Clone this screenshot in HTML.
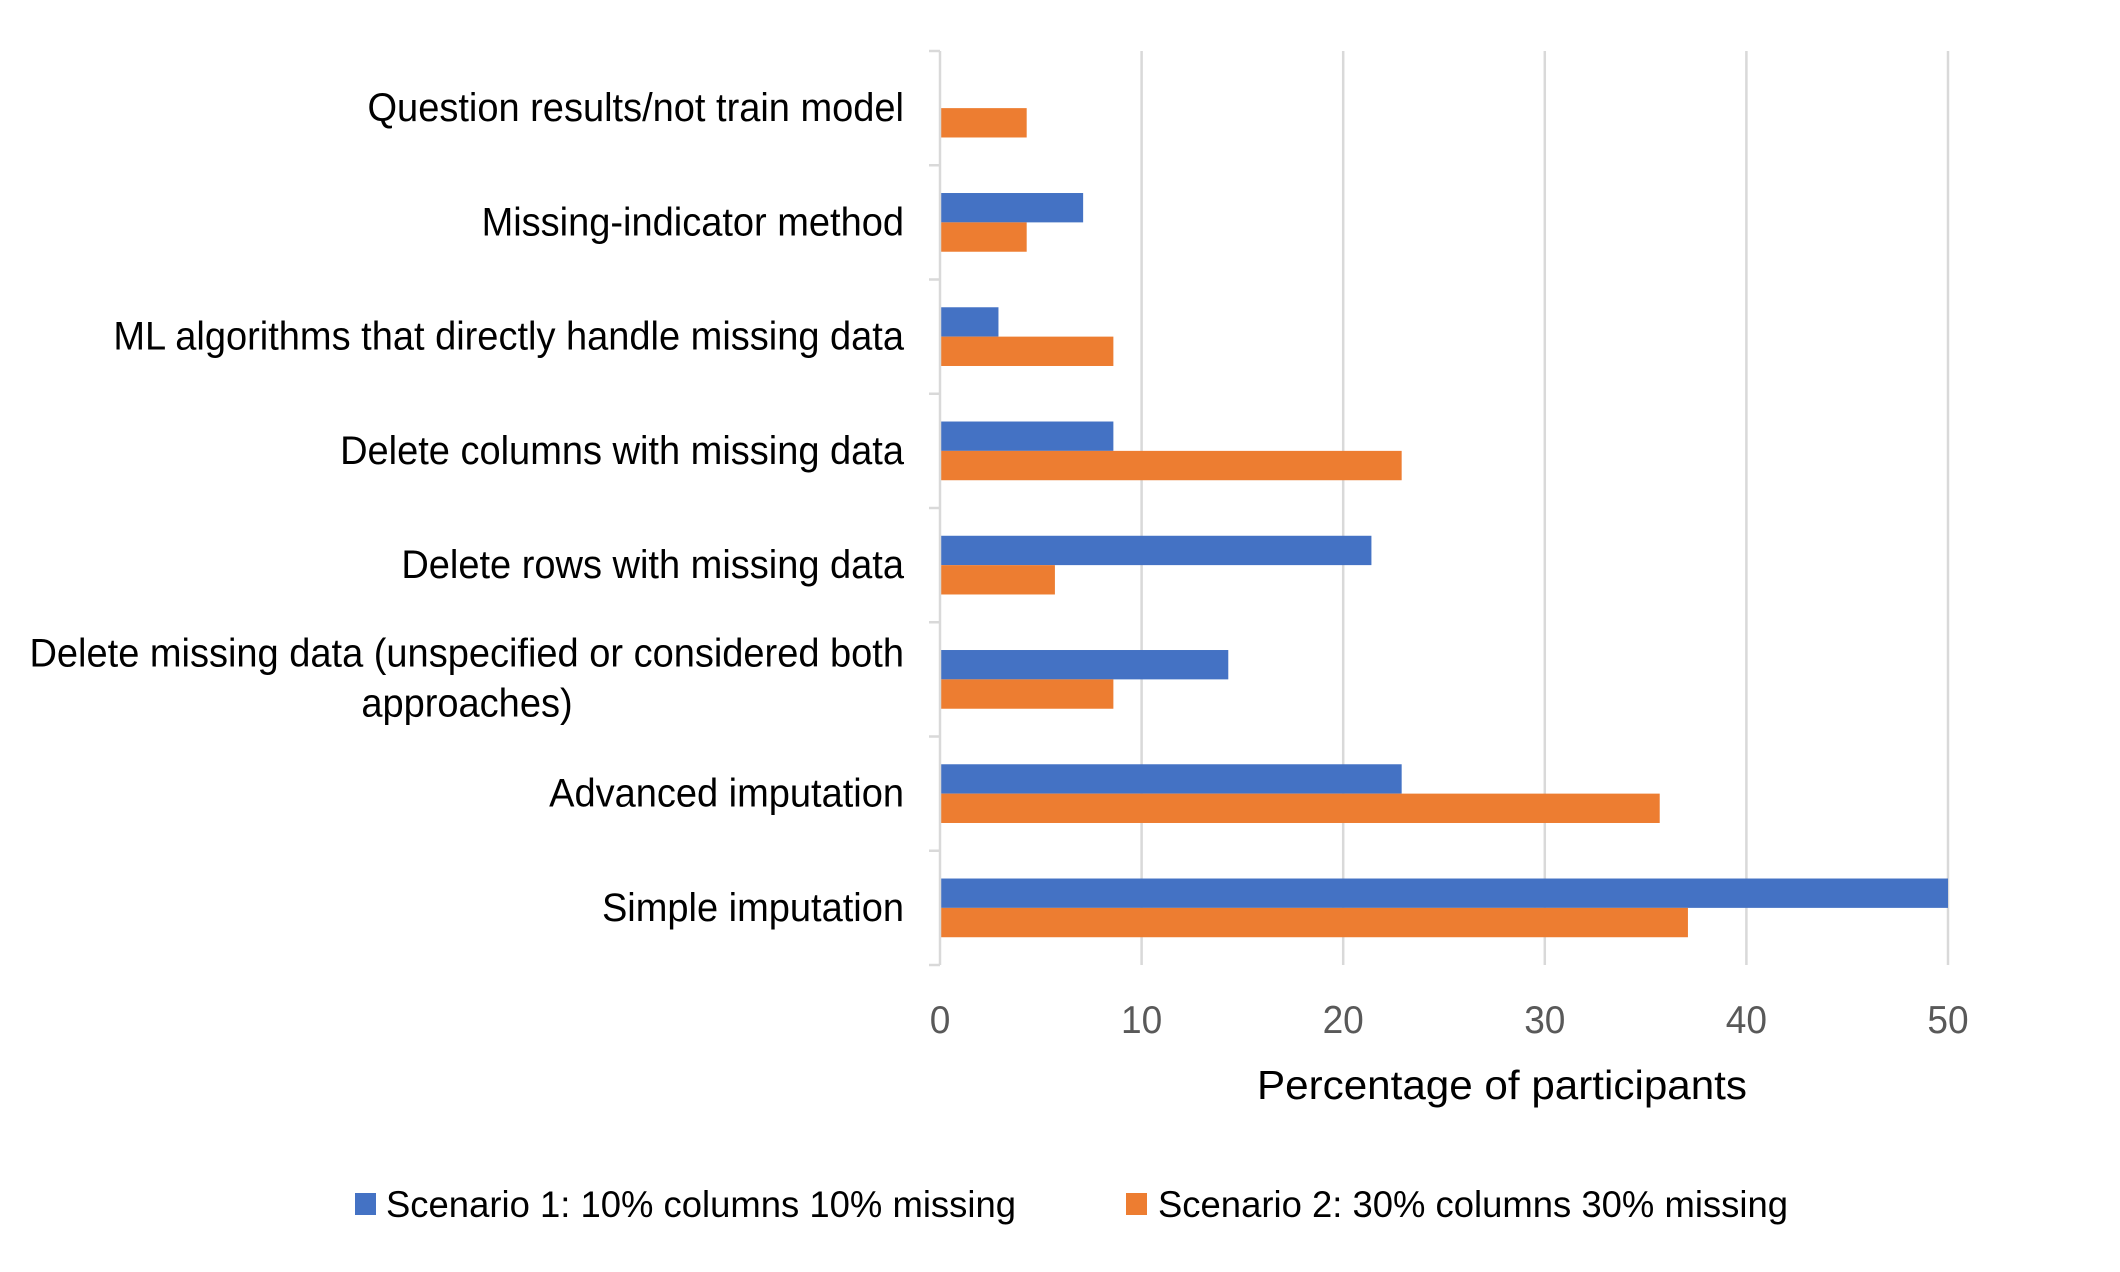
<!DOCTYPE html>
<html><head><meta charset="utf-8"><style>
html,body{margin:0;padding:0;background:#fff;}
svg{display:block;font-family:"Liberation Sans",sans-serif;}
</style></head><body>
<svg id="chart" width="2120" height="1272" viewBox="0 0 2120 1272" xmlns="http://www.w3.org/2000/svg">
<g id="grid"></g>
<g id="bars"></g>
<g id="yaxis"></g>
<g id="xaxis"></g>
<text class="fit" data-w="490" x="1502" y="1099" font-size="41" text-anchor="middle" fill="#000">Percentage of participants</text>
<g>
<g>
<rect x="355" y="1193" width="21" height="22" fill="#4472C4"/>
<text class="fit" data-w="630" x="386" y="1217" font-size="37" fill="#000">Scenario 1: 10% columns 10% missing</text>
</g>
<g>
<rect x="1126" y="1193" width="21" height="22" fill="#ED7D31"/>
<text class="fit" data-w="630" x="1158" y="1217" font-size="37" fill="#000">Scenario 2: 30% columns 30% missing</text>
</g>
</g>
</svg>
<script>
const categories = ["Question results/not train model","Missing-indicator method","ML algorithms that directly handle missing data","Delete columns with missing data","Delete rows with missing data","Delete missing data (unspecified or considered both|approaches)","Advanced imputation","Simple imputation"];
const scenario1 = [0, 7.1, 2.9, 8.6, 21.4, 14.3, 22.9, 50];
const scenario2 = [4.3, 4.3, 8.6, 22.9, 5.7, 8.6, 35.7, 37.1];
const xTicks = [0, 10, 20, 30, 40, 50];

const NS = "http://www.w3.org/2000/svg";
const X0 = 940, X1 = 1948, XMAX = 50, YTOP = 51, YBOT = 965;
const band = (YBOT - YTOP) / categories.length;
const barH = band * 0.257;
function xs(v){ return X0 + (v / XMAX) * (X1 - X0); }
function yc(i){ return YTOP + band * (i + 0.5); }
function mk(tag, attrs, parent){ const e = document.createElementNS(NS, tag); for (const k in attrs) e.setAttribute(k, attrs[k]); parent.appendChild(e); return e; }

const grid = document.getElementById('grid');
xTicks.forEach(t => {
  if (t === 0) return;
  const l = mk('line', {x1: xs(t), x2: xs(t), y1: YTOP, y2: YBOT, stroke: '#d9d9d9', 'stroke-width': 2.5}, grid);
  
  
});
const xaxis = document.getElementById('xaxis');
xTicks.forEach(t => {
  const tx = mk('text', {x: xs(t), y: 1033, 'font-size': 39, 'text-anchor': 'middle', fill: '#595959'}, xaxis);
  tx.textContent = t;
  tx.setAttribute('class', 'fit');
  
  
});
const yaxis = document.getElementById('yaxis');
const ax = mk('line', {x1: X0, x2: X0, y1: YTOP, y2: YBOT, stroke: '#d9d9d9', 'stroke-width': 2.5}, yaxis);


for (let i = 0; i <= categories.length; i++) {
  const y = YTOP + band * i;
  const tk = mk('line', {x1: X0 - 11, x2: X0, y1: y, y2: y, stroke: '#d9d9d9', 'stroke-width': 2.5}, yaxis);
  
  
}
categories.forEach((c, i) => {
  const lines = c.split('|');
  if (lines.length === 1) {
    const t = mk('text', {x: 904, y: yc(i) + 13, 'font-size': 40, 'text-anchor': 'end', fill: '#000'}, yaxis);
    t.textContent = c;
    t.setAttribute('class', 'fit');
    
    
  } else {
    const t1 = mk('text', {x: 904, y: yc(i) - 13, 'font-size': 40, 'text-anchor': 'end', fill: '#000'}, yaxis);
    t1.textContent = lines[0];
    t1.setAttribute('class', 'fit');
    
    
    const t2 = mk('text', {x: 467, y: yc(i) + 37, 'font-size': 40, 'text-anchor': 'middle', fill: '#000'}, yaxis);
    t2.textContent = lines[1];
    t2.setAttribute('class', 'fit');
    
    
  }
});
const bars = document.getElementById('bars');
categories.forEach((c, i) => {
  if (scenario1[i] > 0) {
    const b = mk('rect', {x: X0, y: yc(i) - barH, width: xs(scenario1[i]) - X0, height: barH, fill: '#4472C4'}, bars);
    
    
  }
  const b2 = mk('rect', {x: X0, y: yc(i), width: xs(scenario2[i]) - X0, height: barH, fill: '#ED7D31'}, bars);
  
  
});
document.querySelectorAll('text.fit').forEach(t => {
  const w = t.getComputedTextLength();
  const target = t.getAttribute('data-w') ? +t.getAttribute('data-w') : w * 0.95;
  t.setAttribute('textLength', target);
  t.setAttribute('lengthAdjust', 'spacingAndGlyphs');
});
</script>
</body></html>
